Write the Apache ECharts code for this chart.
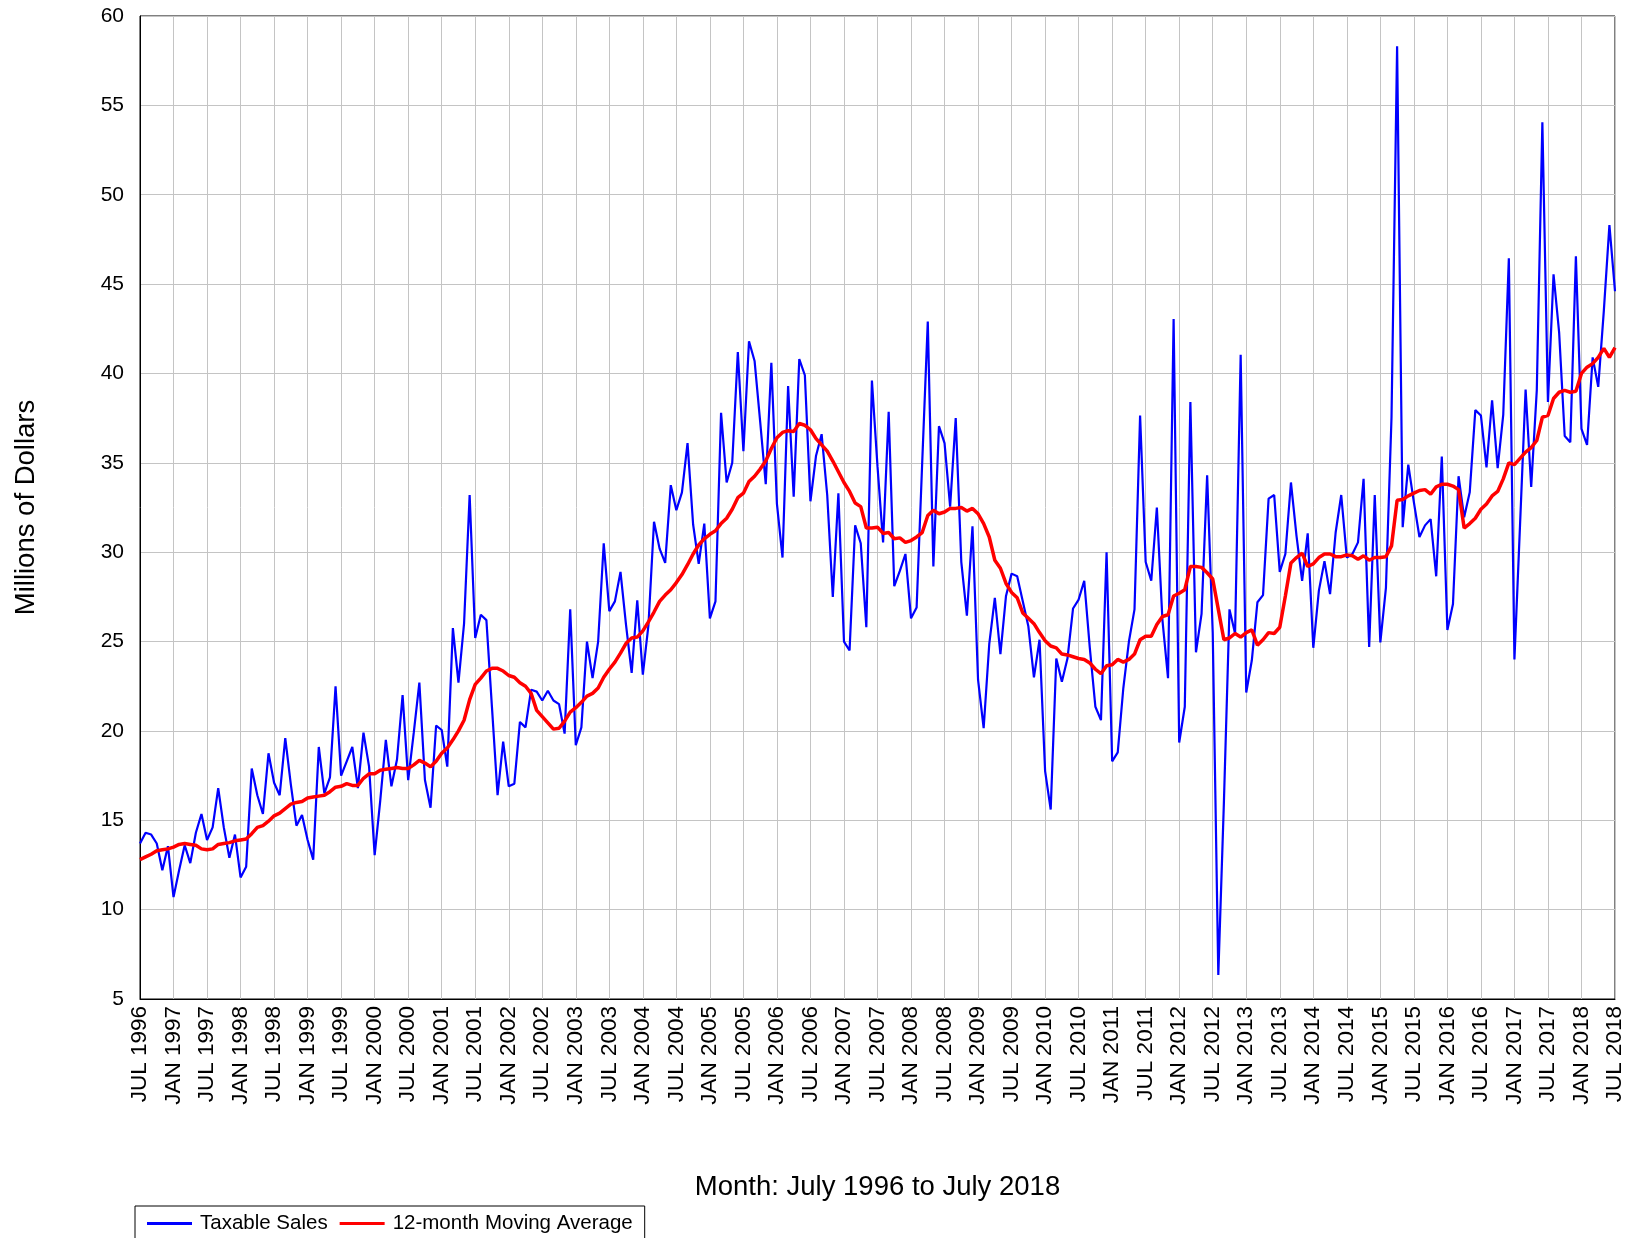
<!DOCTYPE html>
<html>
<head>
<meta charset="utf-8">
<script src="https://cdn.jsdelivr.net/npm/echarts@6/dist/echarts.min.js"></script>
<style>
html,body{margin:0;padding:0;background:#fff;}
#chart{width:1635px;height:1238px;}
</style>
</head>
<body>
<div id="chart"></div>
<script>
// Months: July 1996 .. July 2018
const monthNames = ['JAN','FEB','MAR','APR','MAY','JUN','JUL','AUG','SEP','OCT','NOV','DEC'];
const categories = [];
for (let i = 0; i < 265; i++) {
  const mi = (6 + i) % 12;
  const yr = 1996 + Math.floor((6 + i) / 12);
  categories.push(monthNames[mi] + ' ' + yr);
}

// Taxable Sales (millions of dollars), one value per month
const taxableSales = [
  13.7,14.3,14.2,13.7,12.2,13.55,10.7,12.2,13.6,12.6,14.3,15.35,
  13.9,14.6,16.8,14.6,12.9,14.2,11.8,12.4,17.9,16.4,15.35,18.75,
  17.1,16.4,19.6,17.0,14.7,15.3,13.9,12.8,19.1,16.5,17.4,22.5,
  17.5,18.3,19.1,16.8,19.9,18.0,13.05,16.1,19.5,16.9,18.4,22.0,
  17.25,19.9,22.7,17.25,15.7,20.3,20.05,18.0,25.75,22.7,26.0,33.2,
  25.2,26.5,26.2,21.3,16.4,19.4,16.9,17.05,20.5,20.2,22.3,22.2,
  21.7,22.25,21.7,21.5,19.85,26.8,19.2,20.2,25.0,22.95,25.0,30.5,
  26.7,27.25,28.9,25.9,23.25,27.3,23.15,25.9,31.7,30.2,29.4,33.75,
  32.35,33.35,36.1,31.55,29.35,31.6,26.3,27.25,37.8,33.9,35.0,41.2,
  35.65,41.8,40.7,37.3,33.8,40.6,32.7,29.7,39.3,33.1,40.8,39.9,
  32.85,35.4,36.6,33.2,27.5,33.3,25.0,24.5,31.5,30.5,25.8,39.6,
  34.8,30.55,37.85,28.1,28.95,29.9,26.3,26.9,35.0,42.9,29.2,37.05,
  36.1,32.55,37.5,29.45,26.45,31.45,22.85,20.15,24.85,27.45,24.3,27.55,
  28.8,28.65,27.25,25.85,23.0,25.1,17.75,15.6,24.05,22.75,24.05,26.85,
  27.35,28.4,24.65,21.35,20.6,30.0,18.3,18.8,22.4,25.0,26.8,37.65,
  29.45,28.4,32.5,26.2,22.95,43.05,19.35,21.35,38.4,24.4,26.55,34.3,
  25.5,6.35,16.0,26.8,25.45,41.05,22.15,23.95,27.2,27.6,33.0,33.2,
  28.9,29.9,33.9,30.9,28.4,31.05,24.65,27.85,29.5,27.65,31.1,33.2,
  29.7,29.9,30.55,34.1,24.7,33.2,24.95,28.0,37.55,58.3,31.4,34.9,
  32.8,30.85,31.5,31.85,28.65,35.35,25.65,27.1,34.25,31.95,33.35,37.95,
  37.65,34.75,38.5,34.7,37.7,46.45,24.0,31.5,39.1,33.65,39.05,54.05,
  38.4,45.55,42.3,36.5,36.15,46.55,36.9,36.0,40.9,39.25,43.5,48.3,
  44.6
];

// 12-month Moving Average
const movingAverage = [
  12.8,12.95,13.1,13.3,13.35,13.4,13.5,13.65,13.7,13.65,13.6,13.4,
  13.35,13.4,13.65,13.7,13.75,13.85,13.9,13.95,14.25,14.6,14.7,14.95,
  15.25,15.4,15.65,15.9,16.0,16.05,16.25,16.3,16.35,16.4,16.6,16.85,
  16.9,17.05,16.95,16.95,17.35,17.6,17.6,17.8,17.85,17.9,17.95,17.9,
  17.9,18.1,18.35,18.2,18.0,18.3,18.75,19.05,19.5,20.0,20.6,21.75,
  22.6,22.95,23.35,23.5,23.5,23.35,23.1,23.0,22.7,22.5,22.1,21.15,
  20.8,20.45,20.1,20.15,20.55,21.05,21.3,21.6,21.95,22.1,22.4,23.0,
  23.45,23.85,24.35,24.9,25.2,25.25,25.6,26.1,26.65,27.25,27.6,27.9,
  28.3,28.75,29.3,29.9,30.4,30.75,31.0,31.2,31.6,31.9,32.4,33.05,
  33.3,33.95,34.25,34.65,35.1,35.8,36.4,36.7,36.8,36.75,37.2,37.1,
  36.85,36.35,36.0,35.65,35.1,34.5,33.9,33.4,32.75,32.55,31.35,31.35,
  31.4,31.05,31.1,30.75,30.8,30.55,30.65,30.85,31.1,32.05,32.35,32.15,
  32.25,32.45,32.45,32.5,32.3,32.45,32.15,31.6,30.85,29.55,29.1,28.25,
  27.75,27.45,26.6,26.3,26.0,25.5,25.05,24.75,24.65,24.3,24.25,24.15,
  24.05,24.0,23.8,23.45,23.2,23.65,23.7,24.0,23.85,24.0,24.3,25.1,
  25.3,25.3,25.95,26.4,26.5,27.55,27.7,27.9,29.2,29.2,29.15,28.85,
  28.5,26.8,25.1,25.2,25.45,25.25,25.5,25.65,24.8,25.1,25.5,25.45,
  25.8,27.55,29.4,29.7,29.95,29.2,29.35,29.7,29.9,29.9,29.75,29.75,
  29.85,29.8,29.6,29.8,29.55,29.7,29.7,29.75,30.35,32.9,32.95,33.15,
  33.3,33.45,33.5,33.25,33.65,33.8,33.8,33.7,33.5,31.35,31.6,31.9,
  32.4,32.7,33.15,33.4,34.1,35.0,34.9,35.25,35.6,35.85,36.25,37.55,
  37.65,38.6,38.95,39.05,38.95,39.0,40.0,40.35,40.55,40.9,41.4,40.9,
  41.45
];

const yTicks = { min: 5, max: 60, interval: 5 };
const font = '"Liberation Sans", Arial, sans-serif';

const chart = echarts.init(document.getElementById('chart'), null, { renderer: 'canvas' });
chart.setOption({
  animation: false,
  backgroundColor: '#ffffff',
  grid: {
    left: 140, right: 20, top: 16, bottom: 239,
    show: true, borderColor: '#000', borderWidth: 1, backgroundColor: 'transparent'
  },
  legend: {
    left: 135, top: 1206,
    padding: [7, 12, 7, 12],
    borderColor: '#000', borderWidth: 1, borderRadius: 0,
    itemWidth: 45, itemHeight: 3, itemGap: 12,
    icon: 'rect',
    textStyle: { fontFamily: font, fontSize: 20.5, color: '#000', padding: [0, 0, 0, 3] },
    data: [
      { name: 'Taxable Sales', icon: 'rect', itemStyle: { color: '#0000ff' } },
      { name: '12-month Moving Average', icon: 'rect', itemStyle: { color: '#ff0000' } }
    ]
  },
  xAxis: {
    type: 'category',
    data: categories,
    boundaryGap: false,
    name: 'Month: July 1996 to July 2018',
    nameLocation: 'middle',
    nameGap: 174,
    nameTextStyle: { fontFamily: font, fontSize: 27.5, color: '#000' },
    axisLine: { lineStyle: { color: '#000', width: 1 } },
    axisTick: { show: false },
    axisLabel: {
      interval: 5, rotate: 90, margin: 7,
      fontFamily: font, fontSize: 22.5, color: '#000'
    },
    splitLine: { show: true, interval: 5, lineStyle: { color: '#c4c4c4', width: 1 } }
  },
  yAxis: {
    type: 'value',
    min: yTicks.min, max: yTicks.max, interval: yTicks.interval,
    name: 'Millions of Dollars',
    nameLocation: 'middle',
    nameGap: 100,
    nameTextStyle: { fontFamily: font, fontSize: 27.5, color: '#000' },
    axisLine: { show: true, lineStyle: { color: '#000', width: 1 } },
    axisTick: { show: false },
    axisLabel: { margin: 16, fontFamily: font, fontSize: 21, color: '#000' },
    splitLine: { show: true, lineStyle: { color: '#c4c4c4', width: 1 } }
  },
  series: [
    {
      name: 'Taxable Sales',
      type: 'line',
      data: taxableSales,
      symbol: 'none',
      showSymbol: false,
      lineStyle: { color: '#0000ff', width: 2.2 },
      itemStyle: { color: '#0000ff' },
      z: 2
    },
    {
      name: '12-month Moving Average',
      type: 'line',
      data: movingAverage,
      symbol: 'none',
      showSymbol: false,
      lineStyle: { color: '#ff0000', width: 3.5 },
      itemStyle: { color: '#ff0000' },
      z: 3
    }
  ]
});
</script>
</body>
</html>
